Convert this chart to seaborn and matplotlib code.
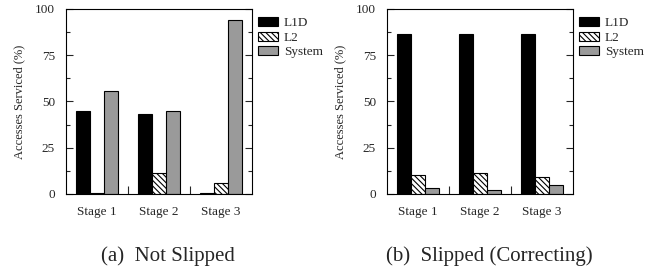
import pandas as pd
import matplotlib
matplotlib.use("Agg")
import matplotlib.pyplot as plt
import seaborn as sns
from matplotlib.patches import Patch
from matplotlib.ticker import MultipleLocator, FixedLocator

# ------------------------
# Data
# ------------------------
stages = ["Stage 1", "Stage 2", "Stage 3"]
levels = ["L1D", "L2", "System"]

not_slipped_l1d = [45.0, 43.5, 0.3]
not_slipped_l2 = [0.3, 11.5, 5.8]
not_slipped_sys = [55.5, 45.0, 94.0]

slipped_l1d = [86.5, 86.5, 86.3]
slipped_l2 = [10.5, 11.5, 9.0]
slipped_sys = [3.0, 2.0, 5.0]

captions = ["(a)  Not Slipped", "(b)  Slipped (Correcting)"]


def make_df(l1d, l2, sysv):
    rows = []
    for i, s in enumerate(stages):
        rows.append((s, "L1D", l1d[i]))
        rows.append((s, "L2", l2[i]))
        rows.append((s, "System", sysv[i]))
    return pd.DataFrame(rows, columns=["stage", "level", "pct"])


panels = [
    make_df(not_slipped_l1d, not_slipped_l2, not_slipped_sys),
    make_df(slipped_l1d, slipped_l2, slipped_sys),
]

# ------------------------
# Style
# ------------------------
sns.set_theme(style="ticks")
plt.rcParams["font.family"] = ["Liberation Serif", "DejaVu Serif"]
plt.rcParams["hatch.linewidth"] = 0.8
colors = {"L1D": "#000000", "L2": "#ffffff", "System": "#9a9a9a"}
hatches = {"L1D": "", "L2": "\\\\\\\\\\\\", "System": ""}

W, H = 655, 270
fig = plt.figure(figsize=(W / 100, H / 100), dpi=100)

ax_lefts = [66, 387]
cap_x = [168, 489]
for k, df in enumerate(panels):
    ax = fig.add_axes([ax_lefts[k] / W, (H - 194) / H, 186 / W, 185 / H])
    sns.barplot(data=df, x="stage", y="pct", hue="level", hue_order=levels,
                palette=colors, width=0.68, edgecolor="black", linewidth=0.8,
                legend=False, ax=ax)
    # hatch the L2 bars
    for j, lvl in enumerate(levels):
        for bar in ax.containers[j]:
            bar.set_hatch(hatches[lvl])

    ax.set_xlim(-0.5, 2.5)
    ax.set_ylim(0, 100)
    ax.yaxis.set_major_locator(MultipleLocator(25))
    ax.yaxis.set_minor_locator(MultipleLocator(12.5))
    ax.tick_params(axis="y", which="both", direction="in", right=True,
                   labelsize=9.5, pad=8, width=0.8)
    ax.tick_params(axis="y", which="major", length=5)
    ax.tick_params(axis="y", which="minor", length=3)
    ax.xaxis.set_minor_locator(FixedLocator([0.5, 1.5]))
    ax.tick_params(axis="x", which="major", length=0, labelsize=9.5, pad=8.5)
    ax.tick_params(axis="x", which="minor", direction="in", length=6, width=0.8)
    ax.set_xlabel("")
    ax.set_ylabel("Accesses Serviced (%)", fontsize=9, labelpad=7)
    for sp in ax.spines.values():
        sp.set_linewidth(0.8)
        sp.set_color("black")

    handles = [Patch(facecolor=colors[l], edgecolor="black", hatch=hatches[l],
                     linewidth=0.8, label=l) for l in levels]
    ax.legend(handles=handles, loc="upper left", bbox_to_anchor=(1.03, 0.955),
              frameon=False, fontsize=9.5, handlelength=1.55, handleheight=0.65,
              handletextpad=0.45, labelspacing=0.18, borderaxespad=0, borderpad=0)

    fig.text(cap_x[k] / W, 1 - 256 / H, captions[k],
             ha="center", va="center", fontsize=15)

fig.savefig("out.png", dpi=100)
